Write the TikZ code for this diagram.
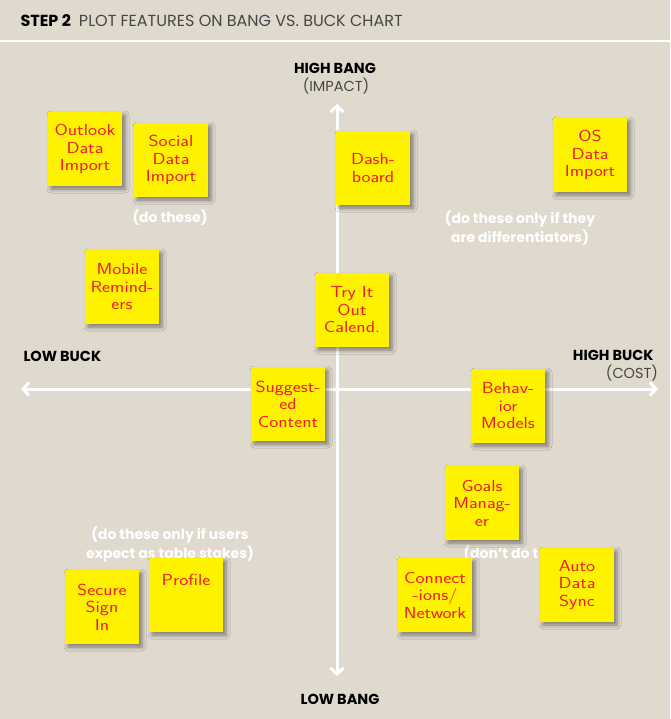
\documentclass[tikz,border=0pt]{standalone}
\usepackage{fontspec}
\setmainfont{Poppins}
\newfontfamily\markerfont[FakeStretch=1.2]{Latin Modern Sans}
\usepackage{tikz}
\usetikzlibrary{arrows.meta,positioning,shadows.blur}
\usepackage{xcolor}
\definecolor{chartbg}{RGB}{224,218,206}
\definecolor{noteyellow}{RGB}{255,242,0}
\definecolor{markerred}{RGB}{232,30,40}
\definecolor{capgray}{RGB}{70,70,70}

\tikzset{
  sticky/.style={fill=noteyellow, minimum width=74pt, minimum height=74pt, inner sep=1pt,
    align=center, text=markerred, font=\markerfont\fontsize{16}{17.5}\selectfont,
    blur shadow={shadow xshift=3pt, shadow yshift=-3pt, shadow blur radius=4pt, shadow opacity=45}},
  axislab/.style={font=\bfseries\fontsize{14.5}{16}\selectfont, text=black},
  subcap/.style={font=\fontsize{14.5}{16}\selectfont, text=capgray},
  hint/.style={font=\bfseries\fontsize{14}{19}\selectfont, text=white, align=center},
  axis/.style={white, line width=3pt, {Straight Barb[length=6pt,width=13pt]}-{Straight Barb[length=6pt,width=13pt]}}
}

\begin{document}
\begin{tikzpicture}[x=1pt, y=-1pt]
    % Background
    \fill[chartbg] (0,0) rectangle (670,719);
    \useasboundingbox (0,0) rectangle (670,719);
    \draw[white, line width=1.5pt] (0,41) -- (670,41);

    % Title
    \node[anchor=west, font=\fontsize{16}{18}\selectfont, text=capgray] (title) at (17,21)
        {\textcolor{black}{\bfseries STEP 2}\enspace PLOT FEATURES ON BANG VS. BUCK CHART};

    % Axes
    \coordinate (ytop) at (337,104);
    \coordinate (ybot) at (337,676);
    \coordinate (xleft) at (21,389);
    \coordinate (xright) at (658,389);
    \draw[axis] (ybot) -- (ytop);
    \draw[axis] (xleft) -- (xright);

    % Axis labels
    \node[axislab] (highbang) at (335,68) {HIGH BANG};
    \node[subcap] (impact) at (336,86) {(IMPACT)};
    \node[axislab] (lowbang) at (340,699) {LOW BANG};
    \node[axislab, anchor=west] (lowbuck) at (20,356) {LOW BUCK};
    \node[axislab, anchor=east] (highbuck) at (657,355) {HIGH BUCK};
    \node[subcap] (cost) at (632,373) {(COST)};

    % Quadrant hints
    \node[hint] (dothese) at (170,218) {(do these)};
    \node[hint] (differ) at (520,228) {(do these only if they\\are differentiators)};
    \node[hint] (stakes) at (170,544) {(do these only if users\\expect as table stakes)};
    \node[hint, anchor=west] (dontdo) at (460,554) {(don't do t};

    % Notes: high bang, low buck
    \node[sticky] (outlook) at (85,149) {Outlook\\Data\\Import};
    \node[sticky] (social) at (171,160) {Social\\Data\\Import};
    \node[sticky] (mobile) at (122,287) {Mobile\\Remind-\\ers};

    % Notes: high bang, high buck
    \node[sticky] (dash) at (373,168) {Dash-\\board};
    \node[sticky] (osdata) at (590,155) {OS\\Data\\Import};

    % Notes: near the middle
    \node[sticky] (tryit) at (352,310) {Try It\\Out\\Calend.};
    \node[sticky] (suggest) at (288,404) {Suggest-\\ed\\Content};
    \node[sticky] (behavior) at (508,406) {Behav-\\ior\\Models};

    % Notes: low bang
    \node[sticky] (goals) at (482,503) {Goals\\Manag-\\er};
    \node[sticky] (connect) at (435,595) {Connect\\-ions/\\Network};
    \node[sticky] (autosync) at (577,585) {Auto\\Data\\Sync};
    \node[sticky] (secure) at (102,607) {Secure\\Sign\\In};
    \node[sticky] (profile) at (186,595) {};
    \node[text=markerred, font=\markerfont\fontsize{16}{17.5}\selectfont, below=13pt of profile.north] (proftxt) {Profile};
\end{tikzpicture}
\end{document}
